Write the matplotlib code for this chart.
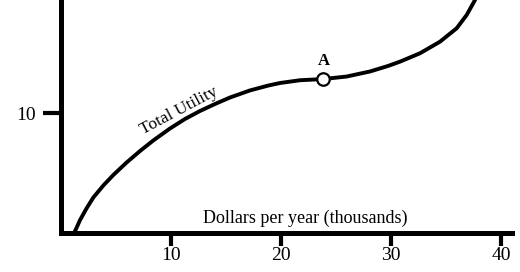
import matplotlib
matplotlib.use("Agg")
import matplotlib.pyplot as plt

# Data
income = [1.2, 1.73, 2.34, 2.94, 3.85, 4.75, 5.97, 7.18, 8.39, 9.91, 11.27, 12.64,
          14.0, 15.36, 17.18, 18.85, 19.91, 21.73, 23.85, 25.97, 28.09, 29.73,
          30.82, 32.64, 34.45, 35.97, 36.88, 37.64, 37.82]
utility = [0.0, 1.08, 2.08, 2.96, 3.96, 4.83, 5.88, 6.83, 7.71, 8.71, 9.5, 10.17,
           10.75, 11.29, 11.88, 12.29, 12.5, 12.73, 12.83, 13.04, 13.46, 13.92,
           14.28, 14.98, 15.94, 17.06, 18.17, 19.42, 20.08]
point_a = (23.85, 12.83)
x_ticks = [10, 20, 30, 40]
y_ticks = [10]

plt.rcParams['font.family'] = ['Liberation Serif', 'DejaVu Serif']

fig = plt.figure(figsize=(5.2, 2.72), dpi=100)
ax = fig.add_axes([61/520, 39/272, 451/520, 233/272])
ax.set_xlim(0, 41)
ax.set_ylim(0, 233/12)

ax.plot(income, utility, color='black', lw=2.8, solid_joinstyle='round',
        solid_capstyle='butt', antialiased=True)
ax.plot([point_a[0]], [point_a[1]], marker='o', ms=9, mfc='white', mec='black', mew=1.6, zorder=5)
ax.text(point_a[0], point_a[1] + 1.17, 'A', ha='center', va='baseline', fontsize=12, fontweight='bold')

ax.text(10.73, 10.17, 'Total Utility', rotation=28, rotation_mode='anchor',
        ha='center', va='center', fontsize=12.5)
ax.text(22.2, 0.83, 'Dollars per year (thousands)', ha='center', va='baseline', fontsize=13)

for s in ['top', 'right']:
    ax.spines[s].set_visible(False)
for s in ['left', 'bottom']:
    ax.spines[s].set_linewidth(3.6)
    ax.spines[s].set_capstyle('projecting')

ax.set_xticks(x_ticks)
ax.set_yticks(y_ticks)
ax.tick_params(axis='x', direction='out', length=9, width=3, pad=1, labelsize=14)
ax.tick_params(axis='y', direction='out', length=13, width=3, pad=5, labelsize=14)

fig.savefig('out.png', dpi=100)
